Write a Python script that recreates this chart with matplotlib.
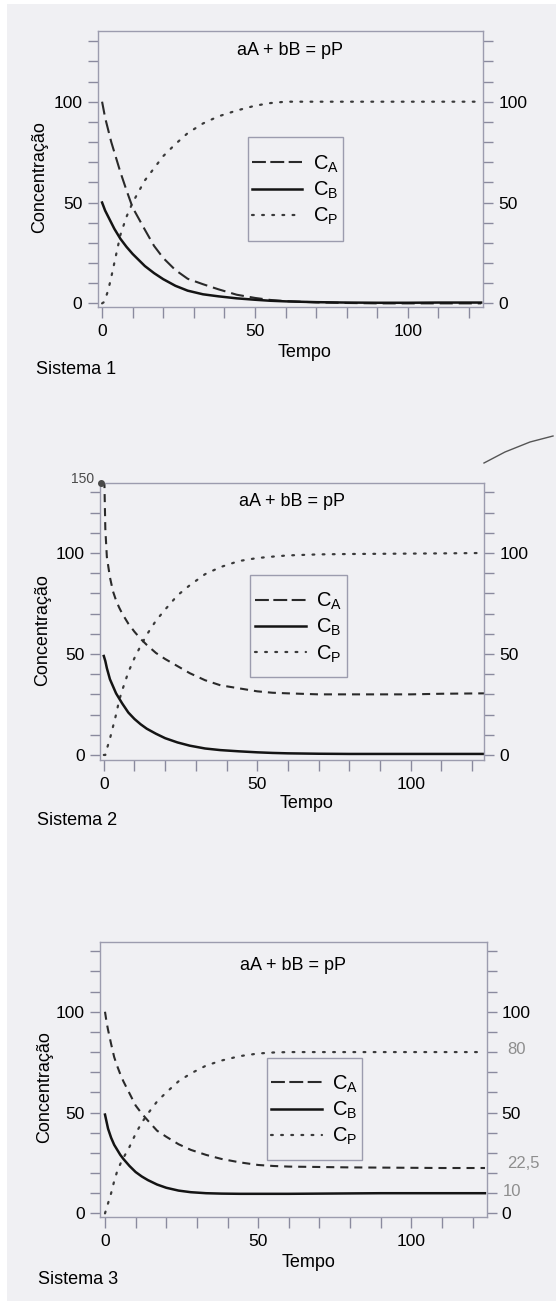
# %%
import matplotlib.pyplot as plt
import numpy as np
from matplotlib.lines import Line2D
from matplotlib.patches import Rectangle

plt.rcParams['font.family'] = ['Liberation Sans', 'DejaVu Sans']
plt.rcParams['lines.scale_dashes'] = False

# %%
# Values (same time grid for the three systems)
tempo = [0, 0.5, 1, 2, 3, 4, 5, 6, 8, 10, 12, 14, 17, 20,
         24, 28, 33, 38, 44, 50, 55, 60, 70, 80, 90, 100, 110, 124]

# Sistema 1
ca1 = [100, 96, 92, 86, 80, 75, 70, 65, 56, 47.5, 42, 36.5, 28.5, 22.5,
       16.5, 12.2, 9.5, 7, 4.3, 2.7, 1.7, 1.1, 0.5, 0.2, 0, 0, 0, 0]
cb1 = [50, 48, 46, 43, 40, 37, 34.5, 32, 28, 24.5, 21.5, 18.5, 15, 12,
       8.7, 6.3, 4.5, 3.5, 2.5, 1.8, 1.3, 1, 0.6, 0.4, 0.3, 0.3, 0.4, 0.4]
cp1 = [0, 0.5, 2, 6.5, 13, 20, 27, 34, 43, 50, 55.5, 61, 67, 73,
       79, 84.4, 89.2, 92.7, 95.6, 98, 99.3, 100, 100, 100, 100, 100, 100, 100]

# Sistema 2
ca2 = [150, 112, 98, 88, 81, 76.5, 73, 70, 65, 61, 57.5, 54.5, 50.5, 47.5,
       44, 40.5, 37, 34.5, 33, 31.5, 30.8, 30.5, 30, 30, 30, 30, 30.3, 30.5]
cb2 = [49, 46.5, 43, 37.5, 34, 30.5, 28, 25.5, 21, 17.8, 15.2, 13, 10.5, 8.3,
       6.2, 4.6, 3.2, 2.4, 1.8, 1.3, 1, 0.8, 0.6, 0.5, 0.5, 0.5, 0.5, 0.5]
cp2 = [0, 0, 3, 8, 14, 20, 27, 32, 41, 48, 54, 59.5, 66.5, 72,
       79, 84, 89.5, 93, 96, 97.5, 98.2, 98.8, 99.3, 99.5, 99.6, 99.7, 99.8, 100]

# Sistema 3
ca3 = [100, 95, 91, 84, 77.5, 73, 69, 65.5, 59.5, 53.5, 49.5, 46, 41, 38,
       34.3, 31.5, 29, 27, 25.3, 24, 23.5, 23.2, 23, 22.8, 22.7, 22.6, 22.5, 22.5]
cb3 = [49, 45.5, 42, 37.5, 34, 31.5, 29, 27, 23.5, 20.5, 18.3, 16.5, 14.3, 12.7,
       11.3, 10.5, 10, 9.8, 9.7, 9.7, 9.7, 9.7, 9.8, 9.9, 10, 10, 10, 10]
cp3 = [0, 2.5, 5, 10, 16, 21, 24.5, 27.5, 33, 39.5, 45, 49.5, 55.5, 60,
       65.5, 69.4, 73.3, 75.8, 78, 79.3, 79.8, 80, 80, 80, 80, 80, 80, 80]

series = [(ca1, cb1, cp1), (ca2, cb2, cp2), (ca3, cb3, cp3)]
sistemas = ['Sistema 1', 'Sistema 2', 'Sistema 3']
titulo = 'aA + bB = pP'
legendas = ['$\\mathregular{C_A}$', '$\\mathregular{C_B}$', '$\\mathregular{C_P}$']

# %%
# Layout of the page, in pixels of the scan (left, top, right, bottom)
W, H = 556, 1301
frames = [(97.5, 30.7, 483.3, 307), (99.8, 482.5, 484, 760), (100.4, 942, 486.5, 1217)]
ylims = [(-1.8, 135.2), (-2.5, 134.9), (-1.8, 134.6)]
xlims = [(-1.5, 124.7), (-1.3, 123.9), (-1.5, 124.5)]
leg_boxes = [(247.5, 137.3, 343.3, 240.7), (250.4, 575, 346.8, 677.3),
             (266.7, 1057.7, 362.4, 1160)]
title_y = [0.928, 0.931, 0.916]
xlabel_pos = [(305, 352.3), (307, 803.3), (308.5, 1262.3)]
ylabel_pos = [(39.7, 176.7), (42.6, 630), (44.3, 1086.7)]
sist_pos = [(35.5, 369.3), (37.2, 820.7), (38.3, 1280)]
dash_a = [(9.4, 4.3), (5.8, 4.3), (5.8, 4.3)]


def fx(x):
    return x / W


def fy(y):
    return 1 - y / H


fig = plt.figure(figsize=(W / 100, H / 100), dpi=100, facecolor='white')
# scanned page tone
fig.add_artist(Rectangle((fx(7), 0), 1 - fx(7), fy(4), transform=fig.transFigure,
                         facecolor='#f0f0f3', edgecolor='none', zorder=-10))

frame_col = '#9c9cae'
tick_col = '#8a8a9e'
txt = 13

for i in range(3):
    l, t, r, b = frames[i]
    ax = fig.add_axes([fx(l), fy(b), fx(r) - fx(l), fy(t) - fy(b)])
    ax.set_facecolor('none')
    ca, cb, cp = series[i]

    ax.plot(tempo, cp, color='#3a3a3a', lw=1.6, dashes=(1.3, 6),
            dash_capstyle='round')
    ax.plot(tempo, ca, color='#2a2a2a', lw=1.5, dashes=dash_a[i])
    ax.plot(tempo, cb, color='#141414', lw=1.8)

    ax.set_xlim(*xlims[i])
    ax.set_ylim(*ylims[i])
    ax.set_xticks([0, 50, 100])
    ax.set_xticks(np.arange(0, 121, 10), minor=True)
    ax.set_yticks([0, 50, 100])
    ax.set_yticks(np.arange(0, 131, 10), minor=True)
    ax.tick_params(which='both', direction='out', length=7, width=1,
                   color=tick_col, labelsize=12.5, pad=4,
                   left=True, right=True, labelleft=True, labelright=True,
                   top=False, bottom=True)
    ax.tick_params(axis='x', which='both', length=8, pad=4.5)
    for s in ax.spines.values():
        s.set_color(frame_col)
        s.set_linewidth(1)

    ax.text(0.5, title_y[i], titulo, transform=ax.transAxes, ha='center',
            va='center', fontsize=txt)

    # legend with its own box
    lx0, ly0, lx1, ly1 = leg_boxes[i]
    fig.add_artist(Rectangle((fx(lx0), fy(ly1)), fx(lx1) - fx(lx0), fy(ly0) - fy(ly1),
                             transform=fig.transFigure, fill=False,
                             edgecolor=frame_col, lw=1))
    handles = [Line2D([], [], color='#2a2a2a', lw=1.5, dashes=(10, 3.2)),
               Line2D([], [], color='#141414', lw=1.8),
               Line2D([], [], color='#3a3a3a', lw=1.6, dashes=(1.3, 6),
                      dash_capstyle='round')]
    ax.legend(handles, legendas, loc='center',
              bbox_to_anchor=(fx((lx0 + lx1) / 2), fy((ly0 + ly1) / 2 + 1.5)),
              bbox_transform=fig.transFigure, frameon=False, fontsize=14.5,
              handlelength=2.5, handletextpad=0.5, labelspacing=0.25,
              borderpad=0, borderaxespad=0)

    fig.text(fx(xlabel_pos[i][0]), fy(xlabel_pos[i][1]), 'Tempo', ha='center',
             va='center', fontsize=txt)
    fig.text(fx(ylabel_pos[i][0]), fy(ylabel_pos[i][1]), 'Concentração',
             ha='center', va='center', rotation=90, fontsize=txt)
    fig.text(fx(sist_pos[i][0]), fy(sist_pos[i][1]), sistemas[i], ha='left',
             va='center', fontsize=txt)

# %%
# Pencil notes written on the page
fig.text(fx(83), fy(479), '150', ha='center', va='center', fontsize=10,
         color='#4a4a4a')
fig.add_artist(Line2D([fx(100.7)], [fy(483.3)], marker='o', markersize=4,
                      color='#4a4a4a', transform=fig.transFigure))
fig.text(fx(517), fy(1050), '80', ha='center', va='center', fontsize=12,
         color='#8e8e8e')
fig.text(fx(523), fy(1164), '22,5', ha='center', va='center', fontsize=12,
         color='#8e8e8e')
fig.text(fx(512), fy(1192), '10', ha='center', va='center', fontsize=12,
         color='#8e8e8e')
# pen stroke between the first two charts
pen_x = [484, 505, 530, 553]
pen_y = [463, 452, 442, 436]
fig.add_artist(Line2D([fx(v) for v in pen_x], [fy(v) for v in pen_y],
                      color='#555555', lw=1, transform=fig.transFigure))

fig.savefig('out.png', dpi=100, facecolor=fig.get_facecolor())
